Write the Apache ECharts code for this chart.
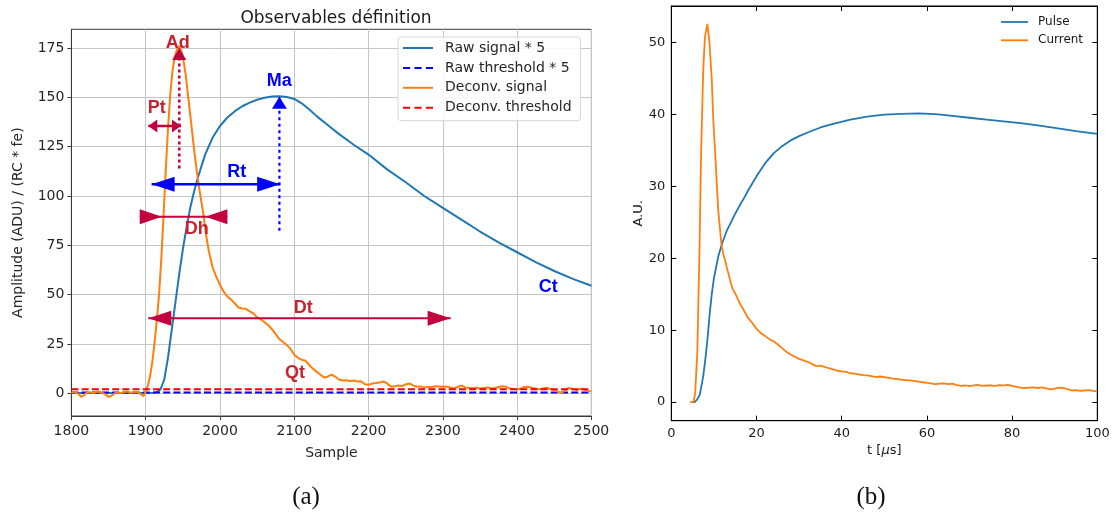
<!DOCTYPE html>
<html>
<head>
<meta charset="utf-8">
<script src="https://cdn.jsdelivr.net/npm/echarts@6/dist/echarts.min.js"></script>
<style>
  html, body { margin: 0; padding: 0; background: #fff; }
  #chart { width: 1117px; height: 514px; }
</style>
</head>
<body>
<div id="chart"></div>
<script>
// ---------- (a) observables on one event ----------
const rawSample = [1800,1850,1900,1910,1915,1920,1925,1930,1935,1940,1945,1950,1955,1960,1965,1970,1975,1980,1990,2000,2010,2020,2030,2040,2050,2060,2070,2080,2090,2100,2110,2120,2130,2140,2150,2160,2180,2200,2225,2250,2275,2300,2325,2350,2375,2400,2425,2450,2475,2500];
const rawValue  = [0.2,0.2,0.2,0.3,0.6,2,7,18,32,46,60,73,84,94,102,109,115,121,129.5,135.5,139.8,143,145.5,147.3,148.8,149.8,150.4,150.6,150.2,149.2,147,144,140.5,137.5,134.5,131.5,126,121,113.5,107,100,94,88,82,76.5,71.5,66.5,62,58,54.5];

const deconvSample = [1800,1805,1810,1813,1816,1820,1825,1830,1835,1840,1845,1850,1853,1856,1860,1865,1870,1875,1880,1885,1890,1894,1897,1900,1903,1906,1909,1912,1915,1918,1921,1924,1927,1930,1933,1936,1939,1942,1945,1948,1951,1954,1957,1960,1963,1966,1969,1972,1975,1978,1981,1985,1990,1995,2000,2005,2010,2015,2020,2025,2030,2035,2040,2045,2050,2055,2060,2065,2070,2075,2080,2085,2090,2095,2100,2105,2110,2115,2120,2125,2130,2135,2140,2145,2150,2155,2160,2165,2170,2175,2180,2185,2190,2195,2200,2205,2210,2215,2220,2225,2230,2235,2240,2245,2250,2255,2260,2265,2270,2275,2280,2285,2290,2295,2300,2305,2310,2315,2320,2325,2330,2335,2340,2345,2350,2355,2360,2365,2370,2375,2380,2385,2390,2395,2400,2405,2410,2415,2420,2425,2430,2435,2440,2445,2450,2455,2460,2465,2470,2475,2480,2485,2490,2495,2500];
const deconvValue  = [0.3,0.6,-0.4,-1.8,-1.2,0.2,0.6,0.1,0.9,0.5,-0.3,-1.8,-1.5,-0.6,0.4,0.1,0.5,0.9,0.3,0.7,0.5,-0.6,-1.4,0.8,4,9,16,26,37,50,68,90,113,134,151,163,170.5,174,176,173.5,168.5,161,151,141,131,121,112,104,97,90,81,72,64,59,55,51.5,49,47.5,45.5,43.5,43,42.8,41.5,40.5,38.5,37.5,36,34.5,32.5,30,27.5,26,24.5,22.5,19.5,18,17,16.5,14.5,12.5,11,9.5,8,8.4,9.5,8.5,7,6.5,6.6,6.2,6.5,6,6.1,4.6,4.3,5,5.2,5.5,6,5,3.5,3.5,4,3.7,4.5,5,4,3.3,3.5,3,3.2,3.2,3.6,3.5,3.3,3.4,2.9,2.6,3.2,4,3,2.8,2.6,2.8,2.5,2.7,2.9,2.6,2.7,3.2,3.6,3.3,2.5,2.2,2.0,2.4,3.2,3.3,2.8,2.5,2.0,2.4,2.8,2.2,1.5,0.8,0.2,1.8,2.7,2.2,1.6,2.3,1.9,1.2,1.0];

const rawThreshold = 0.4;     // raw threshold * 5
const deconvThreshold = 2.0;

// annotation arrows, data coordinates [x1, y1, x2, y2]
const arrowAd = [1945.2, 114, 1945.2, 175];
const arrowMa = [2080, 82.4, 2080, 150.3];
const arrowPt = [1903.5, 135.5, 1947.5, 135.5];
const arrowRt = [1908, 106, 2081, 106];
const arrowDh = [1892, 89.5, 2010, 89.5];
const arrowDt = [1903.5, 38, 2310.5, 38];

// annotation texts and their anchor points
const noteText = ['Ad', 'Pt', 'Dh', 'Dt', 'Qt', 'Ma', 'Rt', 'Ct'];
const noteX    = [1943, 1914.8, 1968.6, 2112, 2101, 2079.8, 2022.6, 2441.9];
const noteY    = [177.7, 144.4, 83.1, 43.1, 10.1, 158.4, 112.2, 53.7];

const amplitudeTicks = [0, 25, 50, 75, 100, 125, 150, 175];

// ---------- (b) pulse and current ----------
const pulseTime  = [4.5,5.5,6,6.7,7,7.5,8,8.5,9,9.5,10,11,12,13,14,15,16,17,18,20,22,24,26,28,30,32,35,38,42,46,50,54,58,62,66,70,74,78,82,86,90,95,100];
const pulseValue = [0,0,0.3,1.0,2.0,3.6,6,8.8,12.2,15,17.2,20.2,22.2,23.8,25.0,26.2,27.3,28.3,29.4,31.4,33.2,34.6,35.6,36.4,37.0,37.5,38.2,38.7,39.3,39.7,40.0,40.1,40.15,40.05,39.8,39.55,39.3,39.05,38.8,38.5,38.15,37.7,37.3];

const currentTime  = [4.5,5.2,5.6,6.1,6.6,7.0,7.5,7.9,8.1,8.45,8.9,9.5,9.85,10.5,11.0,11.8,12.2,12.6,13,13.4,14,14.5,15,15.7,16,17,18,19,20,21,22,23,24,25,26,27,28,29,30,31,32,33,34,35,36,37,38,39,40,41,42,43,44,45,46,47,48,49,50,51,52,53,54,55,56,57,58,59,60,61,62,63,64,65,66,67,68,69,70,71,72,73,74,75,76,77,78,79,80,81,82,83,84,85,86,87,88,89,90,91,92,93,94,95,96,97,98,99,100];
const currentValue = [0,0,1.2,6.8,20.7,34.7,46.3,50.8,51.4,52.6,50.5,44.9,39.3,32.4,26.8,21.7,20.6,19.8,18.8,17.9,16.5,15.6,15.1,14.2,13.8,12.8,11.7,11.0,10.2,9.6,9.2,8.75,8.45,8.0,7.5,7.0,6.6,6.3,6.0,5.8,5.6,5.3,5.0,5.05,4.9,4.7,4.55,4.35,4.25,4.2,4.0,3.95,3.85,3.75,3.7,3.6,3.45,3.55,3.45,3.35,3.25,3.2,3.1,3.05,3.0,2.95,2.85,2.75,2.65,2.6,2.5,2.55,2.6,2.5,2.55,2.35,2.25,2.3,2.2,2.3,2.4,2.25,2.3,2.3,2.25,2.35,2.3,2.4,2.25,2.1,2.0,1.95,2.0,2.05,1.95,2.05,1.9,1.75,1.85,2.0,1.95,1.8,1.6,1.65,1.55,1.6,1.65,1.55,1.5];

const auTicks = [0, 10, 20, 30, 40, 50];

// ---------- drawing ----------
const SANS = "'DejaVu Sans', sans-serif";
const NOTE_FONT = "'Liberation Sans Narrow', 'Liberation Sans', Arial, sans-serif";
const ARROW_RED = '#c2003f';
const LABEL_RED = '#c8232c';
const BLUE = '#0000ff';
const zip = (xs, ys) => xs.map((x, i) => [x, ys[i]]);

// legend samples: a solid stroke and a three-dash stroke
const SOLID_ICON = 'path://M0,0H30V2H0Z';
const DASH_ICON = 'path://M0,0H7.3V2H0Z M11.7,0H19V2H11.7Z M23.3,0H30.6V2H23.3Z';

function segment(p, color, width, type) {
  return {
    type: 'line', xAxisIndex: 0, yAxisIndex: 0, silent: true, symbol: 'none', z: 5,
    data: [[p[0], p[1]], [p[2], p[3]]],
    lineStyle: { color: color, width: width, type: type || 'solid', opacity: 1 }
  };
}
// triangular arrow head; the tip (or the base when fromBase) sits on the point
function head(x, y, dir, len, wid, fromBase) {
  const s = fromBase ? -1 : 1;
  const rot = { up: 0, left: 90, right: -90 }[dir];
  const off = { up: [0, s * len / 2], left: [s * len / 2, 0], right: [-s * len / 2, 0] }[dir];
  return { value: [x, y], symbolSize: [wid, len], symbolRotate: rot, symbolOffset: off };
}
function heads(items, color) {
  return {
    type: 'scatter', xAxisIndex: 0, yAxisIndex: 0, silent: true, symbol: 'triangle', z: 6,
    itemStyle: { color: color, opacity: 1 }, emphasis: { disabled: true }, data: items
  };
}

const redNotes = ['Ad', 'Pt', 'Dh', 'Dt', 'Qt'];
const notes = noteText.map((t, i) => ({
  name: t, value: [noteX[i], noteY[i]],
  label: { color: redNotes.includes(t) ? LABEL_RED : BLUE }
}));

const tickFontA = { fontFamily: SANS, fontSize: 14, color: '#262626' };
const tickFontB = { fontFamily: SANS, fontSize: 13, color: '#1a1a1a' };
const plain = v => String(v);

const option = {
  animation: false,
  backgroundColor: '#fff',
  title: [
    { text: 'Observables définition', left: 331, top: 5, textAlign: 'center',
      textStyle: { fontFamily: SANS, fontSize: 17, fontWeight: 'normal', color: '#1a1a1a' } },
    { text: '(a)', left: 301, top: 480, textAlign: 'center',
      textStyle: { fontFamily: "'Liberation Serif', serif", fontSize: 25, fontWeight: 'normal', color: '#111' } },
    { text: '(b)', left: 866, top: 480, textAlign: 'center',
      textStyle: { fontFamily: "'Liberation Serif', serif", fontSize: 25, fontWeight: 'normal', color: '#111' } }
  ],
  legend: [
    { data: [
        { name: 'Raw signal * 5', icon: SOLID_ICON },
        { name: 'Raw threshold * 5', icon: DASH_ICON },
        { name: 'Deconv. signal', icon: SOLID_ICON },
        { name: 'Deconv. threshold', icon: DASH_ICON }
      ],
      orient: 'vertical', left: 398, top: 37, itemWidth: 30, itemHeight: 16, itemGap: 5.9,
      symbolKeepAspect: true,
      padding: [4, 9, 6, 5], backgroundColor: 'rgba(255,255,255,0.85)',
      borderColor: '#d6d6d6', borderWidth: 1, borderRadius: 3,
      textStyle: { fontFamily: SANS, fontSize: 14, color: '#262626', padding: [0, 0, 0, 7] } },
    { data: [
        { name: 'Pulse', icon: SOLID_ICON },
        { name: 'Current', icon: SOLID_ICON }
      ],
      orient: 'vertical', left: 1001, top: 16, itemWidth: 27, itemHeight: 13, itemGap: 6.3,
      symbolKeepAspect: true, padding: 0,
      textStyle: { fontFamily: SANS, fontSize: 12, color: '#1a1a1a', padding: [0, 0, 0, 5] } }
  ],
  grid: [
    { left: 71.4, top: 29.3, width: 520, height: 386.7, show: true, borderColor: '#3a3a3a', borderWidth: 1, containLabel: false },
    { left: 671.3, top: 6, width: 426, height: 414.7, show: true, borderColor: '#000', borderWidth: 1, containLabel: false }
  ],
  xAxis: [
    { gridIndex: 0, type: 'value', min: 1800, max: 2500, interval: 100,
      name: 'Sample', nameLocation: 'middle', nameGap: 30,
      nameTextStyle: { fontFamily: SANS, fontSize: 14, color: '#262626' },
      axisLine: { onZero: false, lineStyle: { color: '#3a3a3a', width: 1.2 } },
      axisTick: { show: true, inside: false, length: 4, lineStyle: { color: '#3a3a3a' } },
      axisLabel: Object.assign({ margin: 8, formatter: plain }, tickFontA),
      splitLine: { show: true, lineStyle: { color: '#c6c6c6', width: 1 } } },
    { gridIndex: 1, type: 'value', min: 0, max: 100, interval: 20,
      name: 't [{i|μ}s]', nameLocation: 'middle', nameGap: 20,
      nameTextStyle: { fontFamily: SANS, fontSize: 13, color: '#1a1a1a',
        rich: { i: { fontFamily: SANS, fontSize: 13, fontStyle: 'italic', color: '#1a1a1a' } } },
      axisLine: { onZero: false, lineStyle: { color: '#000', width: 1 } },
      axisTick: { show: true, inside: true, length: 5, lineStyle: { color: '#000' } },
      axisLabel: Object.assign({ margin: 6, formatter: plain }, tickFontB),
      splitLine: { show: false } },
    { gridIndex: 1, type: 'value', position: 'top', min: 0, max: 100, interval: 20,
      axisLine: { onZero: false, lineStyle: { color: '#000', width: 1 } },
      axisTick: { show: true, inside: true, length: 5, lineStyle: { color: '#000' } },
      axisLabel: { show: false }, splitLine: { show: false } }
  ],
  yAxis: [
    { gridIndex: 0, type: 'value', min: -11.5, max: 184.5,
      name: 'Amplitude (ADU) / (RC * fe)', nameLocation: 'middle', nameGap: 46,
      nameTextStyle: { fontFamily: SANS, fontSize: 14, color: '#262626' },
      axisLine: { show: true, onZero: false, lineStyle: { color: '#3a3a3a', width: 1 } },
      axisTick: { show: true, inside: false, length: 4, customValues: amplitudeTicks, lineStyle: { color: '#3a3a3a' } },
      axisLabel: Object.assign({ margin: 7, customValues: amplitudeTicks }, tickFontA),
      splitLine: { show: true, lineStyle: { color: '#c6c6c6', width: 1 } } },
    { gridIndex: 1, type: 'value', min: -2.6, max: 55.1,
      name: 'A.U.', nameLocation: 'middle', nameGap: 24,
      nameTextStyle: { fontFamily: SANS, fontSize: 13, color: '#1a1a1a' },
      axisLine: { show: true, onZero: false, lineStyle: { color: '#000', width: 1 } },
      axisTick: { show: true, inside: true, length: 5, customValues: auTicks, lineStyle: { color: '#000' } },
      axisLabel: Object.assign({ margin: 6, customValues: auTicks }, tickFontB),
      splitLine: { show: false } },
    { gridIndex: 1, type: 'value', position: 'right', min: -2.6, max: 55.1,
      axisLine: { show: true, onZero: false, lineStyle: { color: '#000', width: 1 } },
      axisTick: { show: true, inside: true, length: 5, customValues: auTicks, lineStyle: { color: '#000' } },
      axisLabel: { show: false }, splitLine: { show: false } }
  ],
  series: [
    { name: 'Raw signal * 5', type: 'line', xAxisIndex: 0, yAxisIndex: 0, symbol: 'none', showSymbol: false,
      data: zip(rawSample, rawValue), lineStyle: { color: '#1f77b4', width: 2 }, itemStyle: { color: '#1f77b4' } },
    { name: 'Raw threshold * 5', type: 'line', xAxisIndex: 0, yAxisIndex: 0, symbol: 'none', showSymbol: false,
      data: [[1800, rawThreshold], [2500, rawThreshold]],
      lineStyle: { color: BLUE, width: 2, type: [7, 3.2] }, itemStyle: { color: BLUE } },
    { name: 'Deconv. signal', type: 'line', xAxisIndex: 0, yAxisIndex: 0, symbol: 'none', showSymbol: false,
      data: zip(deconvSample, deconvValue), lineStyle: { color: '#ff7f0e', width: 2 }, itemStyle: { color: '#ff7f0e' } },
    { name: 'Deconv. threshold', type: 'line', xAxisIndex: 0, yAxisIndex: 0, symbol: 'none', showSymbol: false,
      data: [[1800, deconvThreshold], [2500, deconvThreshold]],
      lineStyle: { color: '#ff0000', width: 2, type: [7, 3.2] }, itemStyle: { color: '#ff0000' } },

    // annotation shafts
    segment(arrowAd, ARROW_RED, 2.6, [3, 3]),
    segment(arrowMa, BLUE, 2.2, [3, 3.5]),
    segment(arrowPt, ARROW_RED, 2.4),
    segment(arrowRt, BLUE, 2.4),
    segment(arrowDh, ARROW_RED, 2),
    segment(arrowDt, ARROW_RED, 2),
    // annotation heads
    heads([
      head(arrowAd[2], arrowAd[3], 'up', 12, 14),
      head(arrowPt[0], arrowPt[1], 'left', 9, 13),
      head(arrowPt[2], arrowPt[3], 'right', 9, 13),
      head(arrowDh[0], arrowDh[1], 'right', 22, 15, true),
      head(arrowDh[2], arrowDh[3], 'left', 22, 15, true),
      head(arrowDt[0], arrowDt[1], 'left', 23, 15),
      head(arrowDt[2], arrowDt[3], 'right', 23, 15)
    ], ARROW_RED),
    heads([
      head(arrowMa[2], arrowMa[3], 'up', 12, 15),
      head(arrowRt[0], arrowRt[1], 'left', 23, 15),
      head(arrowRt[2], arrowRt[3], 'right', 23, 15)
    ], BLUE),
    // annotation texts
    { type: 'scatter', xAxisIndex: 0, yAxisIndex: 0, silent: true, symbol: 'circle', symbolSize: 1, z: 7,
      itemStyle: { color: 'rgba(0,0,0,0)', opacity: 1 }, emphasis: { disabled: true },
      label: { show: true, position: 'inside', formatter: '{b}', fontFamily: NOTE_FONT, fontWeight: 'bold', fontSize: 18 },
      data: notes },

    { name: 'Pulse', type: 'line', xAxisIndex: 1, yAxisIndex: 1, symbol: 'none', showSymbol: false,
      data: zip(pulseTime, pulseValue), lineStyle: { color: '#1f77b4', width: 1.8 }, itemStyle: { color: '#1f77b4' } },
    { name: 'Current', type: 'line', xAxisIndex: 1, yAxisIndex: 1, symbol: 'none', showSymbol: false,
      data: zip(currentTime, currentValue), lineStyle: { color: '#ff7f0e', width: 1.8 }, itemStyle: { color: '#ff7f0e' } }
  ]
};

const chart = echarts.init(document.getElementById('chart'));
chart.setOption(option);
</script>
</body>
</html>
